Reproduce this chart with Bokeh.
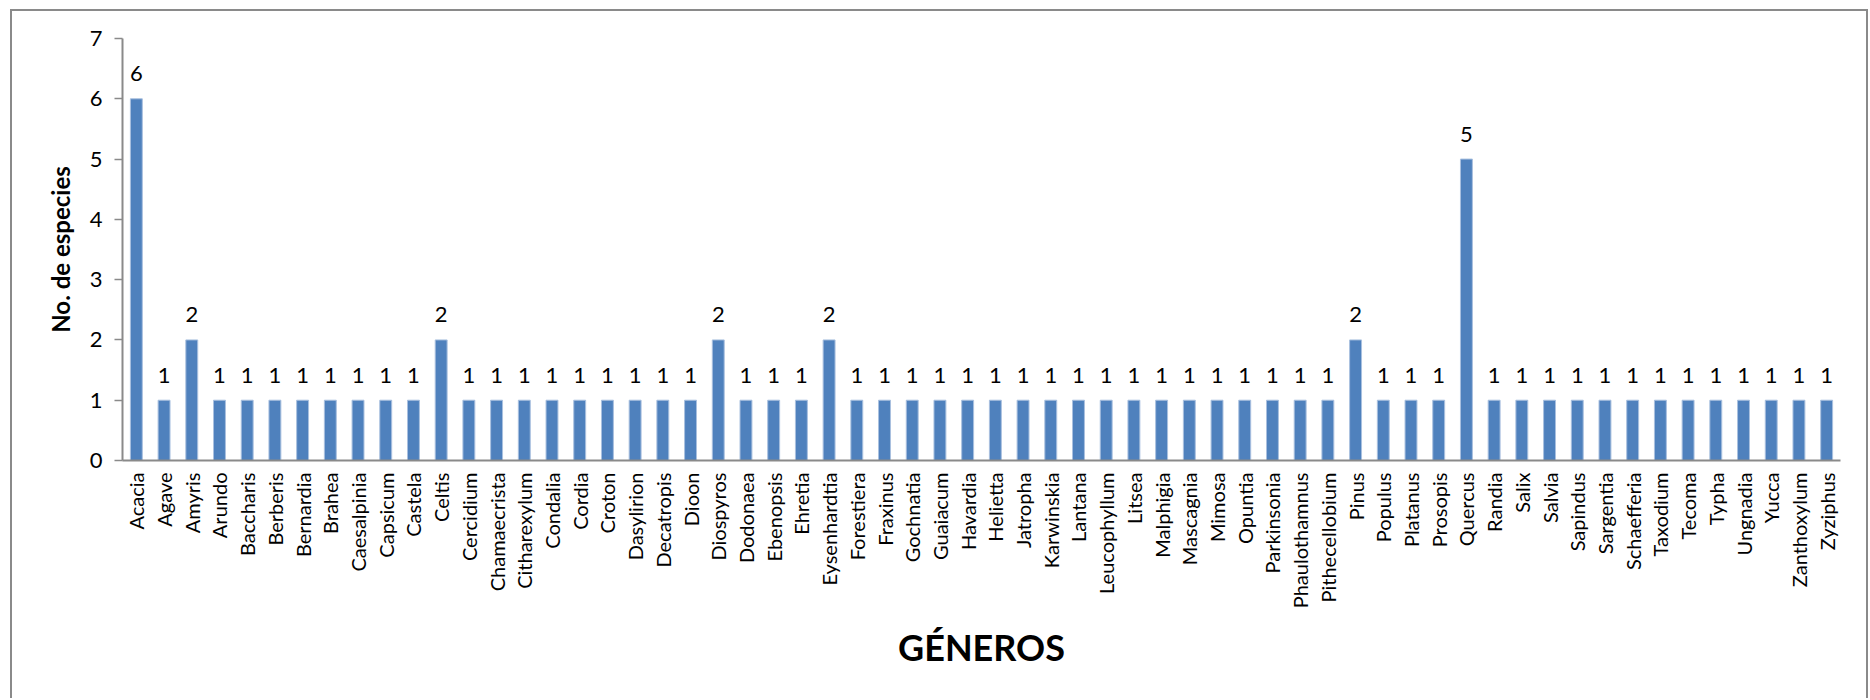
import math
from bokeh.plotting import figure
from bokeh.models import ColumnDataSource, FixedTicker, LabelSet
from bokeh.core.properties import value
from bokeh.embed import file_html
from bokeh.resources import INLINE

generos = ["Acacia", "Agave", "Amyris", "Arundo", "Baccharis", "Berberis", "Bernardia", "Brahea",
           "Caesalpinia", "Capsicum", "Castela", "Celtis", "Cercidium", "Chamaecrista", "Citharexylum",
           "Condalia", "Cordia", "Croton", "Dasylirion", "Decatropis", "Dioon", "Diospyros", "Dodonaea",
           "Ebenopsis", "Ehretia", "Eysenhardtia", "Forestiera", "Fraxinus", "Gochnatia", "Guaiacum",
           "Havardia", "Helietta", "Jatropha", "Karwinskia", "Lantana", "Leucophyllum", "Litsea",
           "Malphigia", "Mascagnia", "Mimosa", "Opuntia", "Parkinsonia", "Phaulothamnus", "Pithecellobium",
           "Pinus", "Populus", "Platanus", "Prosopis", "Quercus", "Randia", "Salix", "Salvia", "Sapindus",
           "Sargentia", "Schaefferia", "Taxodium", "Tecoma", "Typha", "Ungnadia", "Yucca", "Zanthoxylum",
           "Zyziphus"]
especies = [6, 1, 2, 1, 1, 1, 1, 1,
            1, 1, 1, 2, 1, 1, 1,
            1, 1, 1, 1, 1, 1, 2, 1,
            1, 1, 2, 1, 1, 1, 1,
            1, 1, 1, 1, 1, 1, 1,
            1, 1, 1, 1, 1, 1, 1,
            2, 1, 1, 1, 5, 1, 1, 1, 1,
            1, 1, 1, 1, 1, 1, 1, 1,
            1]
y_ticks = [0, 1, 2, 3, 4, 5, 6, 7]

src = ColumnDataSource(dict(g=generos, n=especies, lab=[str(v) for v in especies]))

p = figure(x_range=generos, y_range=(0, 7), width=1868, height=698,
           output_backend="svg", toolbar_location=None,
           min_border_left=122, min_border_right=28, min_border_top=38, min_border_bottom=238)
p.border_fill_color = None
p.background_fill_color = None
g = "linear-gradient(#8a8a8a, #8a8a8a)"
p.styles = {
    "background-color": "#ffffff",
    "background-image": f"{g}, {g}, {g}",
    "background-position": "10px 9px, 10px 9px, 1866px 9px",
    "background-size": "2px 100%, 1858px 2px, 2px 100%",
    "background-repeat": "no-repeat",
}
p.x_range.range_padding = 0
p.vbar(x="g", top="n", width=0.43, source=src, fill_color="#4F81BD",
       line_color="#A9C0DF", line_width=1)

labels = LabelSet(x="g", y="n", text="lab", source=src, text_align="center",
                  text_baseline="middle", y_offset=25, text_font=value("Lato"),
                  text_font_size="22px", text_color="#000000")
p.add_layout(labels)

p.xgrid.grid_line_color = None
p.ygrid.grid_line_color = None
p.outline_line_color = None

p.yaxis.ticker = FixedTicker(ticks=y_ticks)
p.yaxis.minor_tick_line_color = None
p.yaxis.major_tick_in = 0
p.yaxis.major_tick_out = 8
p.yaxis.major_label_standoff = 12
p.yaxis.axis_line_color = "#8a8a8a"
p.yaxis.axis_line_width = 2
p.yaxis.major_tick_line_color = "#8a8a8a"
p.yaxis.major_tick_line_width = 1.5
p.yaxis.major_label_text_font = "Lato"
p.yaxis.major_label_text_font_size = "22px"
p.yaxis.major_label_text_color = "#000000"
p.yaxis.axis_label = "No. de especies"
p.yaxis.axis_label_text_font = "Lato"
p.yaxis.axis_label_text_font_style = "bold"
p.yaxis.axis_label_text_font_size = "24px"
p.yaxis.axis_label_text_color = "#000000"
p.yaxis.axis_label_standoff = 12

p.xaxis.major_label_orientation = math.pi / 2
p.xaxis.major_tick_line_color = None
p.xaxis.major_tick_in = 0
p.xaxis.major_tick_out = 0
p.xaxis.major_label_standoff = 12
p.xaxis.axis_line_color = "#8a8a8a"
p.xaxis.axis_line_width = 2
p.xaxis.major_label_text_font = "Lato"
p.xaxis.major_label_text_font_size = "20px"
p.xaxis.major_label_text_color = "#000000"
p.xaxis.axis_label = "GÉNEROS"
p.xaxis.axis_label_text_font = "Lato"
p.xaxis.axis_label_text_font_style = "bold"
p.xaxis.axis_label_text_font_size = "36px"
p.xaxis.axis_label_text_color = "#000000"
p.xaxis.axis_label_standoff = 14

open("out.html", "w").write(file_html(p, INLINE))
